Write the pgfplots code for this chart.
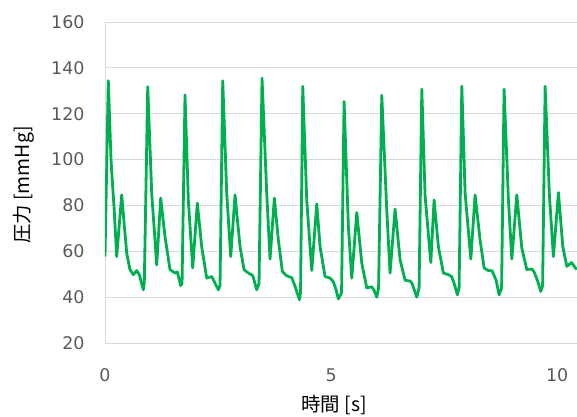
\documentclass[border=0pt]{standalone}
\usepackage{pgfplots}
\pgfplotsset{compat=1.18}
\usepackage{fontspec}
\newfontfamily\tickfont{DejaVu Sans}
\newfontfamily\jpfont{Noto Sans CJK JP}
\definecolor{linegreen}{HTML}{00B050}
\definecolor{gridgray}{HTML}{D9D9D9}
\definecolor{ticktext}{HTML}{595959}
\pgfplotstableread{
t v
0.000 57.7
0.073 134.4
0.133 100
0.170 88
0.199 79.5
0.259 57.7
0.369 84.6
0.480 59.2
0.553 52
0.626 49.8
0.701 51.6
0.759 49.8
0.847 43.2
0.869 46
0.945 131.8
1.033 85.4
1.069 75.2
1.144 54
1.232 83.2
1.327 66.4
1.438 52
1.549 50.5
1.600 51
1.675 45
1.704 46
1.770 128.2
1.843 82.4
1.940 52.7
2.042 81
2.139 62
2.250 48.3
2.361 49
2.412 47
2.507 43.2
2.544 45
2.604 134.4
2.692 85.4
2.781 57.7
2.876 84.6
2.987 62
3.075 52
3.170 50.5
3.268 49.5
3.356 43.2
3.407 46
3.473 135.5
3.577 85.4
3.650 56.6
3.746 83.2
3.834 65
3.923 51.2
4.020 49.3
4.131 48.5
4.204 44.7
4.299 38.9
4.325 42
4.374 132
4.462 82.4
4.573 51.6
4.684 80.7
4.757 62
4.867 49
4.978 48.3
5.044 47
5.111 43.2
5.162 39.2
5.232 42
5.288 125.3
5.383 70.8
5.458 48.3
5.569 76.9
5.679 54.9
5.790 44
5.900 44.5
5.951 43
6.011 40
6.051 44
6.122 128
6.232 78.1
6.305 50.5
6.416 78.4
6.527 56.3
6.637 47.4
6.748 47
6.792 46
6.896 40
6.947 44
7.007 130.7
7.080 84.2
7.206 55.1
7.279 82.4
7.374 62
7.485 50.5
7.595 49.8
7.666 49
7.721 46.1
7.794 41
7.832 44
7.892 132
7.965 85.4
8.091 56.6
8.186 84.6
8.296 65
8.385 52.7
8.480 51.6
8.562 51.5
8.650 47.4
8.717 41
8.772 44
8.827 130.7
8.923 82.4
8.998 56.6
9.108 84.6
9.219 61.4
9.330 52
9.440 52.3
9.491 51
9.564 47.4
9.639 42.5
9.679 45
9.735 132
9.830 84.2
9.918 57.7
10.029 85.6
10.126 62
10.215 53.4
10.319 55.1
10.431 52
}\datatable
\begin{document}
\begin{tikzpicture}[x=1bp,y=1bp]
\useasboundingbox (-105,-73) rectangle (472,343);
\begin{axis}[
  at={(0,0)}, anchor=south west,
  scale only axis, width=472bp, height=321bp,
  xmin=0, xmax=10.44, ymin=20, ymax=160,
  xtick={0,5,10}, ytick={20,40,...,160},
  axis lines=left, axis line style={draw=gridgray, line width=0.8bp, -},
  ymajorgrids, grid style={draw=gridgray, line width=0.8bp},
  major tick length=0pt,
  /pgf/number format/assume math mode=true,
  ticklabel style={font=\tickfont\fontsize{17.5}{18}\selectfont, text=ticktext},
  yticklabel style={xshift=-17bp},
  xticklabel style={yshift=-22bp},
  clip=true,
]
\addplot[linegreen, line width=2.8bp, line join=round, mark=none] table[x=t,y=v] {\datatable};
\end{axis}
\node[font=\jpfont\fontsize{19.5}{20}\selectfont, anchor=center] at (229,-62) {時間 [s]};
\node[font=\jpfont\fontsize{19.5}{20}\selectfont, anchor=center, rotate=90] at (-81,158) {圧力 [mmHg]};
\end{tikzpicture}
\end{document}
